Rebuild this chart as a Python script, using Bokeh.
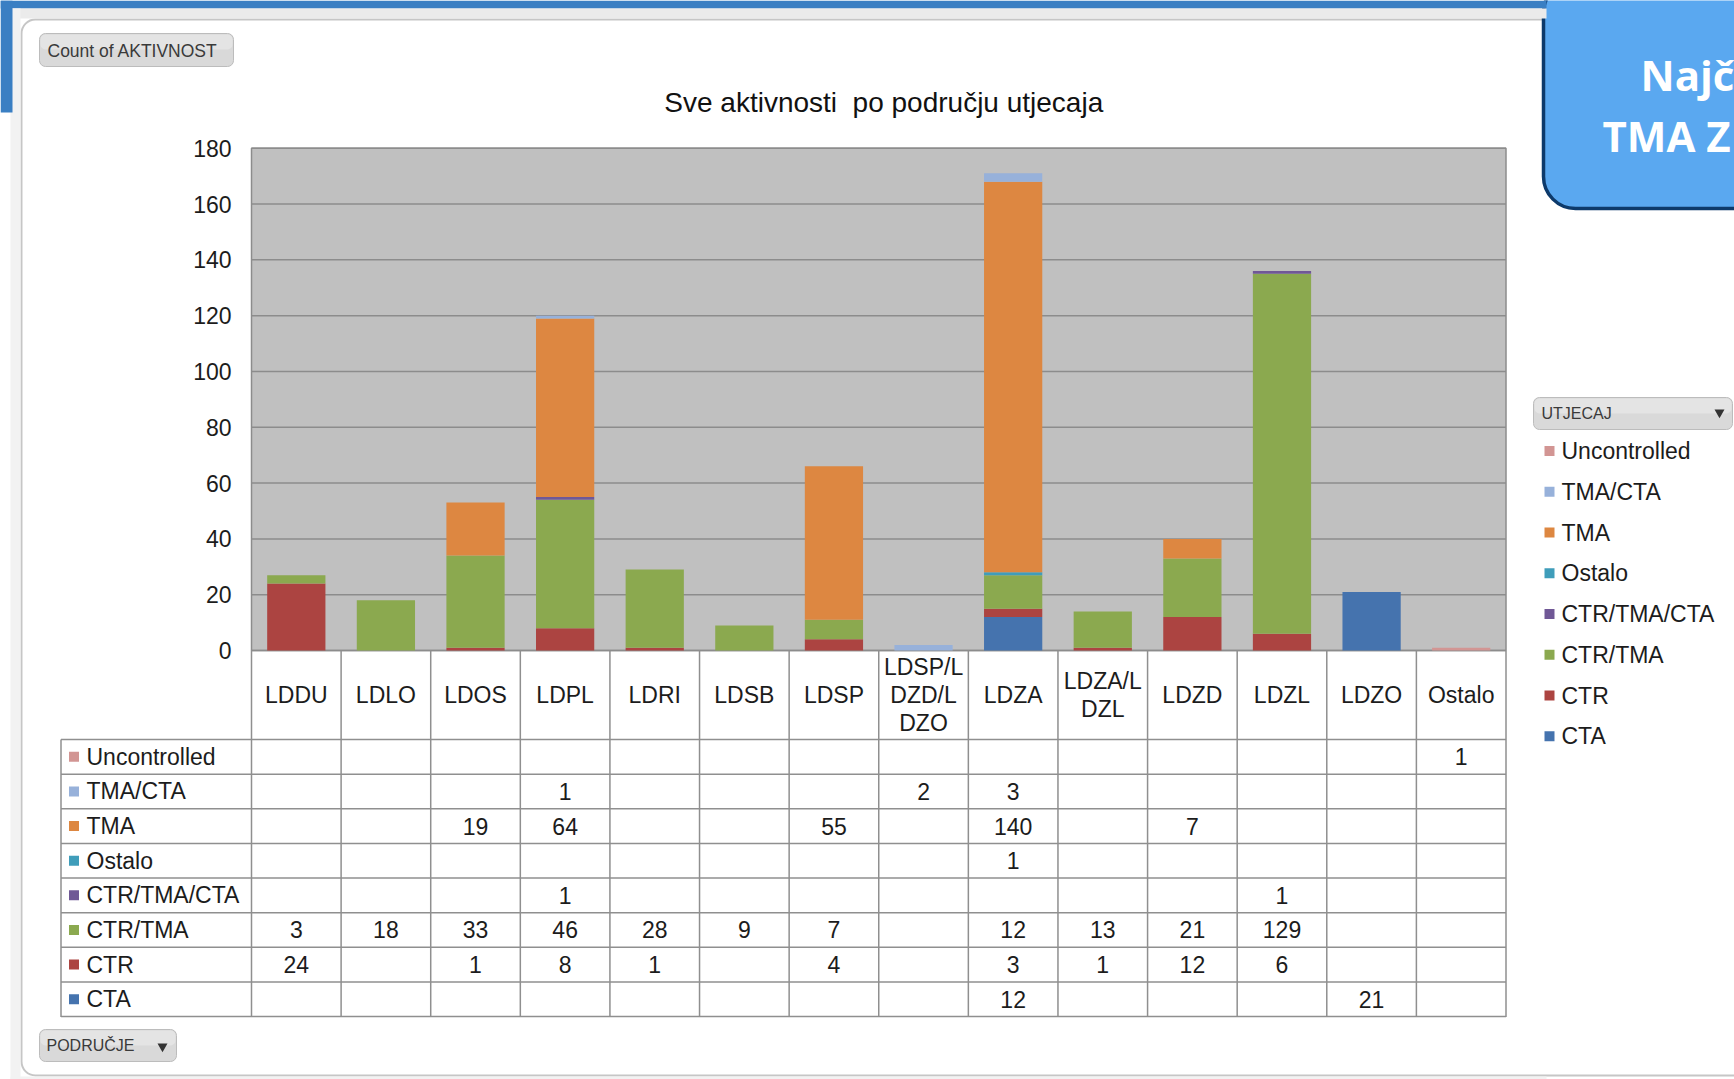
from bokeh.plotting import figure
from bokeh.models import ColumnDataSource, Range1d, BoxAnnotation
from bokeh.core.properties import value
from bokeh.transform import stack
from bokeh.embed import file_html
from bokeh.resources import INLINE

# ---------------- data ----------------
categories = ["LDDU", "LDLO", "LDOS", "LDPL", "LDRI", "LDSB", "LDSP",
              "LDSP/LDZD/LDZO", "LDZA", "LDZA/LDZL", "LDZD", "LDZL", "LDZO", "Ostalo"]
category_labels = ["LDDU", "LDLO", "LDOS", "LDPL", "LDRI", "LDSB", "LDSP",
                   "LDSP/L\nDZD/L\nDZO", "LDZA", "LDZA/L\nDZL", "LDZD", "LDZL", "LDZO", "Ostalo"]

cta          = [0, 0, 0, 0, 0, 0, 0, 0, 12, 0, 0, 0, 21, 0]
ctr          = [24, 0, 1, 8, 1, 0, 4, 0, 3, 1, 12, 6, 0, 0]
ctr_tma      = [3, 18, 33, 46, 28, 9, 7, 0, 12, 13, 21, 129, 0, 0]
ctr_tma_cta  = [0, 0, 0, 1, 0, 0, 0, 0, 0, 0, 0, 1, 0, 0]
ostalo       = [0, 0, 0, 0, 0, 0, 0, 0, 1, 0, 0, 0, 0, 0]
tma          = [0, 0, 19, 64, 0, 0, 55, 0, 140, 0, 7, 0, 0, 0]
tma_cta      = [0, 0, 0, 1, 0, 0, 0, 2, 3, 0, 0, 0, 0, 0]
uncontrolled = [0, 0, 0, 0, 0, 0, 0, 0, 0, 0, 0, 0, 0, 1]

# stacking order: bottom -> top
series_keys = ["cta", "ctr", "ctr_tma", "ctr_tma_cta", "ostalo", "tma", "tma_cta", "uncontrolled"]
series_names = ["CTA", "CTR", "CTR/TMA", "CTR/TMA/CTA", "Ostalo", "TMA", "TMA/CTA", "Uncontrolled"]
series_values = [cta, ctr, ctr_tma, ctr_tma_cta, ostalo, tma, tma_cta, uncontrolled]
series_colors = ["#4573AE", "#AC4441", "#8BA94F", "#705896", "#3F9DBA", "#DD8741", "#97B1DA", "#D29593"]

y_ticks = [0, 20, 40, 60, 80, 100, 120, 140, 160, 180]
y_max = 180

title_text = "Sve aktivnosti\u00a0 po području utjecaja"
field_button = "Count of AKTIVNOST"
legend_button = "UTJECAJ"
axis_button = "PODRUČJE"
callout_lines = ["Najč", "TMA Z"]

# ---------------- layout (window px) ----------------
W, H = 1734, 1079

FL, FR, FT, FB = 251, 1505.5, 147.7, 650
TL = 60.5
HDR_B = 739
ROW_H = (1016 - 739) / 8
TB = HDR_B + 8 * ROW_H
LEG_TOP, LEG_STEP = 450.5, 40.75

FONT = "Liberation Sans"
TXT = "#1c1c1c"
GRID = "#8c8c8c"

ncol = len(categories)
nser = len(series_names)
cat_pos = [i + 0.5 for i in range(ncol)]     # slot centres of the categories
row_pos = [i + 0.5 for i in range(nser)]     # slot centres of the series rows (CTA at bottom)

p = figure(width=W, height=H, x_range=Range1d(0, W), y_range=Range1d(H, 0),
           x_axis_location=None, y_axis_location=None, title=None,
           toolbar_location=None, output_backend="svg", min_border=0)
p.outline_line_color = None
p.background_fill_color = "white"
p.border_fill_color = "white"
p.grid.visible = False

# bars: category slots on x, values on y
chart = p.subplot(x_source=Range1d(0, ncol), y_source=Range1d(0, y_max),
                  x_target=Range1d(FL, FR), y_target=Range1d(FB, FT))
# value y, pixel x (ticks, grid)
val_px = p.subplot(x_source=Range1d(0, W), y_source=Range1d(0, y_max),
                   x_target=Range1d(0, W), y_target=Range1d(FB, FT))
# category x, pixel y (table header)
cat_px = p.subplot(x_source=Range1d(0, ncol), y_source=Range1d(0, H),
                   x_target=Range1d(FL, FR), y_target=Range1d(0, H))
# table cells: category x, series rows y
table = p.subplot(x_source=Range1d(0, ncol), y_source=Range1d(0, nser),
                  x_target=Range1d(FL, FR), y_target=Range1d(TB, HDR_B))
# table row labels: pixel x, series rows y
rows_px = p.subplot(x_source=Range1d(0, W), y_source=Range1d(0, nser),
                    x_target=Range1d(0, W), y_target=Range1d(TB, HDR_B))
# legend: pixel x, series rows y
leg_px = p.subplot(x_source=Range1d(0, W), y_source=Range1d(0, nser),
                   x_target=Range1d(0, W),
                   y_target=Range1d(LEG_TOP + 7.5 * LEG_STEP, LEG_TOP - 0.5 * LEG_STEP))


def txt(g, x, y, text, size, color=TXT, align="left", baseline="middle",
        font=FONT, style="normal", line_height=1.2):
    g.text(x=x, y=y, text=text, text_font=value(font), text_font_size=value(f"{size}px"),
           text_color=color, text_align=align, text_baseline=baseline,
           text_font_style=style, text_line_height=line_height)


def rbox(l, t, r, b, fill=None, line=None, lw=1.0, radius=0, level="underlay"):
    kw = dict(left=l, right=r, top=t, bottom=b, level=level,
              fill_color=fill, fill_alpha=1.0 if fill else 0.0,
              line_color=line, line_alpha=1.0 if line else 0.0, line_width=lw)
    if radius:
        kw["border_radius"] = radius
    p.add_layout(BoxAnnotation(**kw))

# ---------------- window chrome ----------------
p.quad(left=[0, 10, 10, 10, 0], right=[1546, 1546, 20, 1546, 12],
       top=[0, 8, 8, 1076, 0], bottom=[8, 18, H, H, 112],
       fill_color=["#3a7fc3", "#ebebeb", "#f2f2f2", "#f2f2f2", "#3a7fc3"], line_color=None)
rbox(21, 19, W + 40, 1075, line="#c6c6c6", lw=2, radius=14)

# field button
rbox(39, 33, 233, 66, fill="#d9d9d9", line="#bcbcbc", lw=1, radius=6)
rbox(40, 34, 232, 49, fill="#e4e4e4", radius=5)
txt(p, [47], [50], [field_button], 17.5, color="#3a3a3a")

# title
txt(p, [(FL + FR) / 2 + 5], [102], [title_text], 28, color="#111111", align="center")

# ---------------- plot area ----------------
p.quad(left=[FL], right=[FR], top=[FT], bottom=[FB], fill_color="#c0c0c0",
       line_color=GRID, line_width=1.5)
val_px.segment(x0=[FL] * len(y_ticks), x1=[FR] * len(y_ticks), y0=y_ticks, y1=y_ticks,
               line_color=GRID, line_width=1.5)
txt(val_px, [231] * len(y_ticks), y_ticks, [str(t) for t in y_ticks], 23, align="right")

src = ColumnDataSource(dict(pos=cat_pos, **{k: v for k, v in zip(series_keys, series_values)}))
for i, (key, col) in enumerate(zip(series_keys, series_colors)):
    chart.vbar(x="pos", width=0.65, bottom=stack(*series_keys[:i]),
               top=stack(*series_keys[:i + 1]), source=src,
               fill_color=col, line_color=None)

# ---------------- data table ----------------
LC = "#8f8f8f"
colw = (FR - FL) / ncol
vx = [FL + k * colw for k in range(ncol + 1)] + [TL]
vy0 = [FB] * (ncol + 1) + [HDR_B]
p.segment(x0=vx, x1=vx, y0=vy0, y1=[TB + 0.5] * len(vx), line_color=LC, line_width=1.5)
hy = [HDR_B + r * ROW_H for r in range(nser + 1)]
p.segment(x0=[TL] * len(hy), x1=[FR] * len(hy), y0=hy, y1=hy, line_color=LC, line_width=1.5)

txt(cat_px, cat_pos, [(FB + HDR_B) / 2] * ncol, category_labels, 23, align="center",
    line_height=1.07)

cx, cy, ct = [], [], []
for rp, vals in zip(row_pos, series_values):
    for xp, v in zip(cat_pos, vals):
        if v:
            cx.append(xp)
            cy.append(rp)
            ct.append(str(v))
txt(table, cx, cy, ct, 23, align="center")

rows_px.rect(x=[73.5] * nser, y=row_pos, width=10, height=10,
             width_units="screen", height_units="screen",
             fill_color=series_colors, line_color=None)
txt(rows_px, [86] * nser, row_pos, series_names, 23)

# axis field button
rbox(39, 1029, 176, 1061, fill="#d9d9d9", line="#bcbcbc", lw=1, radius=6)
rbox(40, 1030, 175, 1045, fill="#e4e4e4", radius=5)
txt(p, [46], [1045], [axis_button], 16, color="#3a3a3a")
p.scatter([162], [1046], marker="inverted_triangle", size=10,
          fill_color="#333333", line_color=None)

# ---------------- legend ----------------
rbox(1533, 397, 1732, 429, fill="#d9d9d9", line="#bcbcbc", lw=1, radius=6)
rbox(1534, 398, 1731, 413, fill="#e4e4e4", radius=5)
txt(p, [1541], [413], [legend_button], 16, color="#3a3a3a")
p.scatter([1719], [412], marker="inverted_triangle", size=10,
          fill_color="#333333", line_color=None)
leg_px.rect(x=[1549] * nser, y=row_pos, width=10, height=10,
            width_units="screen", height_units="screen",
            fill_color=series_colors, line_color=None)
txt(leg_px, [1561] * nser, row_pos, series_names, 23)

# ---------------- callout ----------------
rbox(1543, -20, W + 60, 208, fill="#5aa8f0", line="#0d3a6b", lw=3.5, radius=32)
txt(p, [1640], [73.5], [callout_lines[0]], 42, color="white",
    font="Open Sans", style="bold")
txt(p, [1602], [135], [callout_lines[1]], 42, color="white",
    font="Open Sans", style="bold")

open("out.html", "w").write(file_html(p, INLINE))
